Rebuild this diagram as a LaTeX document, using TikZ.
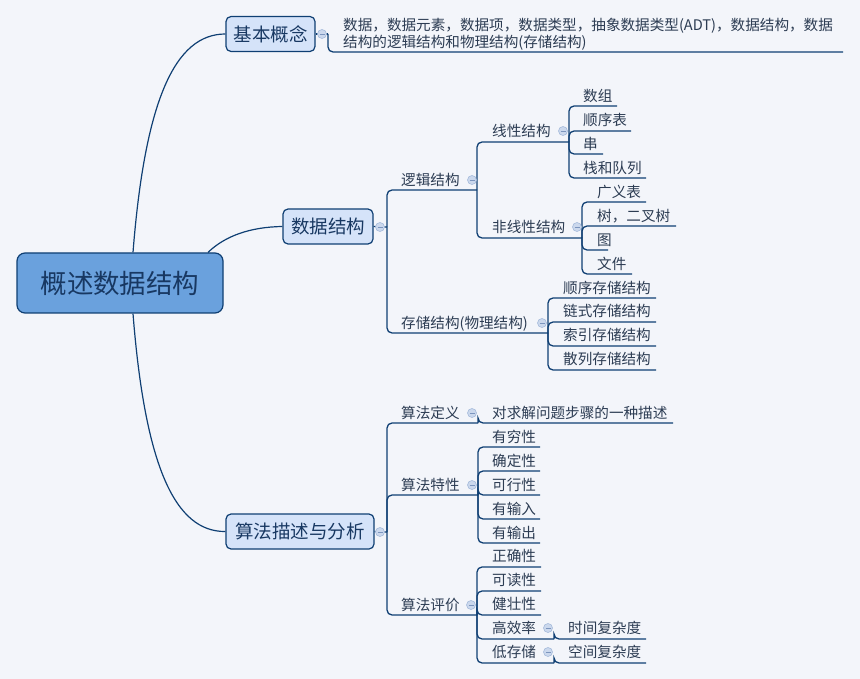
\documentclass[tikz,border=0pt]{standalone}
\usepackage{fontspec}
\setmainfont{Noto Sans CJK SC}
\usetikzlibrary{calc}
\definecolor{bgc}{HTML}{F3F5FA}
\definecolor{linec}{HTML}{0F3F73}
\definecolor{rootfill}{HTML}{6AA1DD}
\definecolor{topicfill}{HTML}{D5E3F9}
\definecolor{maintext}{HTML}{183862}
\definecolor{subtext}{HTML}{2C3C53}
\definecolor{cfill}{HTML}{CBD8ED}
\definecolor{cdraw}{HTML}{A6BBDB}
\definecolor{cminus}{HTML}{7C95BE}
\newcommand{\mmleaf}[7]{%
  \node[sub] (#1) at (#4,#5) {#3};
  \coordinate (#1-e) at (#7,#6);
  \draw[br] (#2) |- (#1-e);}
\begin{document}
\begin{tikzpicture}[x=1pt,y=-1pt,
 br/.style={draw=linec, line width=1.3pt, rounded corners=5pt},
 curve/.style={draw=linec, line width=1.2pt},
 rootbox/.style={draw=linec, line width=1.2pt, fill=rootfill, rounded corners=8pt, minimum width=206pt, minimum height=60pt, inner sep=0pt, text=maintext, font=\fontsize{26.5}{30}\selectfont, text height=23.3pt, text depth=3.2pt},
 topic/.style={draw=linec, line width=1.2pt, fill=topicfill, rounded corners=5pt, minimum height=35pt, inner sep=0pt, text=maintext, font=\fontsize{18.5}{22}\selectfont, text height=16.3pt, text depth=2.2pt},
 sub/.style={anchor=west, inner sep=0pt, text=subtext, font=\fontsize{14.6}{17}\selectfont, text height=12.85pt, text depth=1.75pt},
 fold/.style={circle, draw=cdraw, fill=cfill, line width=0.6pt, minimum size=9pt, inner sep=0pt,
   path picture={\draw[cminus, line width=0.8pt] ([xshift=-2.5pt]path picture bounding box.center) -- ([xshift=2.5pt]path picture bounding box.center);}}
]
\fill[bgc] (0,0) rectangle (860,679);
\useasboundingbox (0,0) rectangle (860,679);

% root and main topics
\node[rootbox] (root) at (120,283) {概述数据结构};
\node[topic, minimum width=89pt] (kb) at (270.5,34) {基本概念};
\node[topic, minimum width=90pt] (ds) at (328,226.5) {数据结构};
\node[topic, minimum width=148pt] (sf) at (300,531.5) {算法描述与分析};

\draw[curve] ([xshift=13pt]root.north) .. controls (145,100) and (175,34) .. (kb.west);
\draw[curve] ([xshift=88pt]root.north) .. controls (225,236) and (250,227) .. (ds.west);
\draw[curve] ([xshift=13pt]root.south) .. controls (145,466) and (175,532) .. (sf.west);

% 基本概念
\coordinate (kb-v) at (328,34);
\draw[br] (kb.east) -- (kb-v);
\node[anchor=base west, inner sep=0pt, text=subtext, font=\fontsize{14.6}{17}\selectfont, align=left] (def) at (343,47.5)
  {数据，数据元素，数据项，数据类型，抽象数据类型(ADT)，数据结构，数据\\结构的逻辑结构和物理结构(存储结构)};
\coordinate (def-e) at (843,52);
\draw[br] (kb-v) |- (def-e);

% 数据结构
\coordinate (ds-v) at (387,227);
\draw[br] (ds.east) -- (ds-v);
\mmleaf{lj}{ds-v}{逻辑结构}{401}{180}{190}{477}
\mmleaf{cc}{ds-v}{存储结构(物理结构)}{401}{323}{333}{548}
\mmleaf{xx}{lj-e}{线性结构}{492}{131}{142}{569}
\mmleaf{fx}{lj-e}{非线性结构}{492}{227}{238}{582}
\mmleaf{sz}{xx-e}{数组}{583}{96}{106}{617}
\mmleaf{sxb}{xx-e}{顺序表}{583}{120}{131}{631}
\mmleaf{ch}{xx-e}{串}{583}{144}{154}{603}
\mmleaf{zd}{xx-e}{栈和队列}{583}{168}{178}{646}
\mmleaf{gyb}{fx-e}{广义表}{597}{192}{202}{646}
\mmleaf{tree}{fx-e}{树，二叉树}{597}{216}{226}{676}
\mmleaf{tu}{fx-e}{图}{597}{240}{250}{608}
\mmleaf{wj}{fx-e}{文件}{597}{264}{274}{632}
\mmleaf{sxcc}{cc-e}{顺序存储结构}{563}{288}{298}{656}
\mmleaf{lscc}{cc-e}{链式存储结构}{563}{311}{322}{656}
\mmleaf{sycc}{cc-e}{索引存储结构}{563}{335}{346}{656}
\mmleaf{slcc}{cc-e}{散列存储结构}{563}{359}{370}{656}

% 算法描述与分析
\coordinate (sf-v) at (387,532);
\draw[br] (sf.east) -- (sf-v);
\mmleaf{sd}{sf-v}{算法定义}{401}{413}{423}{478}
\mmleaf{sdc}{sd-e}{对求解问题步骤的一种描述}{492}{413}{423}{673}
\mmleaf{tx}{sf-v}{算法特性}{401}{485}{495}{478}
\mmleaf{yqx}{tx-e}{有穷性}{492}{437}{447}{540}
\mmleaf{qdx}{tx-e}{确定性}{492}{461}{471}{540}
\mmleaf{kxx}{tx-e}{可行性}{492}{485}{495}{540}
\mmleaf{ysr}{tx-e}{有输入}{492}{509}{519}{540}
\mmleaf{ysc}{tx-e}{有输出}{492}{533}{543}{540}
\mmleaf{pj}{sf-v}{算法评价}{401}{605}{615}{477}
\mmleaf{zqx}{pj-e}{正确性}{492}{556}{567}{541}
\mmleaf{kdx}{pj-e}{可读性}{492}{580}{591}{541}
\mmleaf{jzx}{pj-e}{健壮性}{492}{604}{615}{541}
\mmleaf{gxl}{pj-e}{高效率}{492}{628}{639}{554}
\mmleaf{dcc}{pj-e}{低存储}{492}{652}{663}{554}
\mmleaf{sj}{gxl-e}{时间复杂度}{568}{628}{639}{646}
\mmleaf{kj}{dcc-e}{空间复杂度}{568}{652}{663}{646}

% fold markers
\node[fold] (f-kb) at (322,34) {};
\node[fold] (f-ds) at (380,227) {};
\node[fold] (f-sf) at (380,532) {};
\node[fold] (f-lj) at (472,180) {};
\node[fold] (f-cc) at (542,323) {};
\node[fold] (f-xx) at (563,131) {};
\node[fold] (f-fx) at (577,227) {};
\node[fold] (f-sd) at (472,413) {};
\node[fold] (f-tx) at (472,485) {};
\node[fold] (f-pj) at (471,605) {};
\node[fold] (f-gxl) at (548,628) {};
\node[fold] (f-dcc) at (548,652) {};
\end{tikzpicture}
\end{document}
